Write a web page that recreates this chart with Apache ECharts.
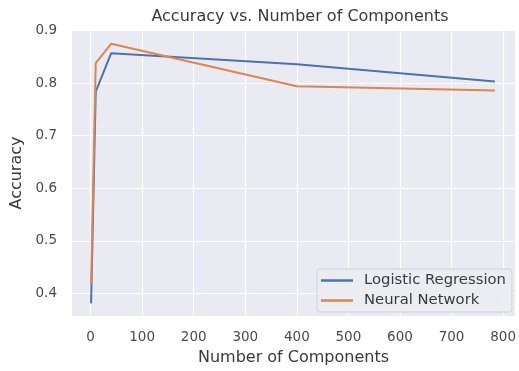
<!DOCTYPE html>
<html>
<head>
<meta charset="utf-8">
<script src="https://cdn.jsdelivr.net/npm/echarts@6/dist/echarts.min.js"></script>
<style>html,body{margin:0;padding:0;background:#fff;}#c{width:519px;height:371px;}</style>
</head>
<body>
<div id="c"></div>
<script>
const components = [1, 10, 40, 400, 784];
const logisticAcc = [0.381, 0.784, 0.857, 0.836, 0.803];
const neuralAcc = [0.418, 0.838, 0.875, 0.794, 0.786];
const xTicks = [0, 100, 200, 300, 400, 500, 600, 700, 800];
const yTicks = [0.4, 0.5, 0.6, 0.7, 0.8, 0.9];

const font = 'DejaVu Sans';
const chart = echarts.init(document.getElementById('c'), null, {renderer: 'canvas'});
const pairs = ys => components.map((x, i) => [x, ys[i]]);
chart.setOption({
  animation: false,
  backgroundColor: '#ffffff',
  title: {
    text: 'Accuracy vs. Number of Components',
    left: 295, top: 4, textAlign: 'center',
    textStyle: {fontFamily: font, fontSize: 16, fontWeight: 'normal', color: '#3a3a3a'}
  },
  grid: {left: 72, right: 1, top: 30, bottom: 51, show: true, backgroundColor: '#EAEAF2', borderWidth: 0},
  legend: {
    orient: 'vertical', left: 317, top: 269,
    data: ['Logistic Regression', 'Neural Network'],
    icon: 'rect', itemWidth: 32, itemHeight: 2.5, itemGap: 5,
    padding: [4, 6, 4, 4],
    backgroundColor: 'rgba(236,236,243,0.9)', borderColor: '#d0d0d8', borderWidth: 1, borderRadius: 3,
    textStyle: {fontFamily: font, fontSize: 14.8, color: '#3a3a3a', padding: [0, 0, 0, 6]}
  },
  xAxis: {
    type: 'value', min: -36, max: 823,
    name: 'Number of Components', nameLocation: 'middle', nameGap: 34,
    nameTextStyle: {fontFamily: font, fontSize: 16, color: '#3a3a3a'},
    axisLine: {show: false},
    axisTick: {show: false, customValues: xTicks},
    axisLabel: {fontFamily: font, fontSize: 13.5, color: '#4a4a4a', margin: 14, customValues: xTicks},
    splitLine: {show: true, lineStyle: {color: '#ffffff', width: 1.2}}
  },
  yAxis: {
    type: 'value', min: 0.357, max: 0.901,
    name: 'Accuracy', nameLocation: 'middle', nameGap: 44,
    nameTextStyle: {fontFamily: font, fontSize: 16, color: '#3a3a3a'},
    axisLine: {show: false},
    axisTick: {show: false, customValues: yTicks},
    axisLabel: {fontFamily: font, fontSize: 13.5, color: '#4a4a4a', margin: 15, customValues: yTicks,
      formatter: v => Number(v).toFixed(1)},
    splitLine: {show: true, lineStyle: {color: '#ffffff', width: 1.2}}
  },
  series: [
    {name: 'Logistic Regression', type: 'line', data: pairs(logisticAcc), showSymbol: false, symbol: 'none',
      lineStyle: {color: '#4C72B0', width: 2}, itemStyle: {color: '#4C72B0'}},
    {name: 'Neural Network', type: 'line', data: pairs(neuralAcc), showSymbol: false, symbol: 'none',
      lineStyle: {color: '#DD8452', width: 2}, itemStyle: {color: '#DD8452'}}
  ]
});
</script>
</body>
</html>
